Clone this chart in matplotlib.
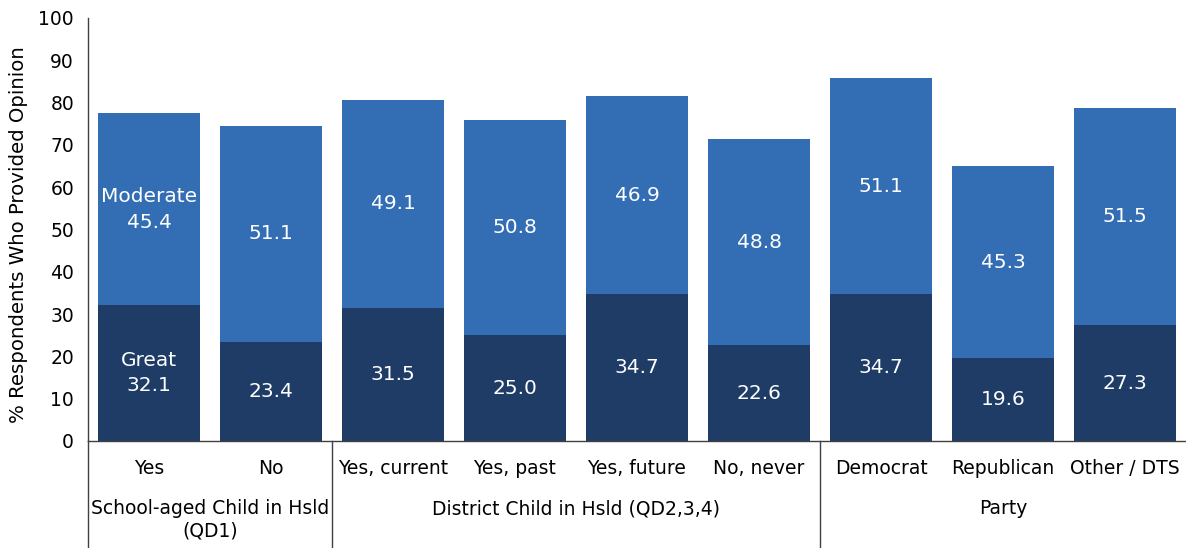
import numpy as np
import matplotlib
matplotlib.use("Agg")
import matplotlib.pyplot as plt

categories = ["Yes", "No", "Yes, current", "Yes, past", "Yes, future",
              "No, never", "Democrat", "Republican", "Other / DTS"]
great = [32.1, 23.4, 31.5, 25.0, 34.7, 22.6, 34.7, 19.6, 27.3]
moderate = [45.4, 51.1, 49.1, 50.8, 46.9, 48.8, 51.1, 45.3, 51.5]
groups = ["School-aged Child in Hsld\n(QD1)", "District Child in Hsld (QD2,3,4)", "Party"]
group_sizes = [2, 4, 3]

dark = "#1e3c65"
light = "#336db3"
fs = 13.5
fs_val = 14.5

fig = plt.figure(figsize=(11.86, 5.48), dpi=100)
ax = fig.add_axes([0.0742, 0.1953, 0.9258, 0.7719])

x = np.arange(len(categories))
w = 0.84
ax.bar(x, great, w, color=dark)
ax.bar(x, moderate, w, bottom=great, color=light)

for i in range(len(x)):
    g_txt = f"{great[i]:.1f}"
    m_txt = f"{moderate[i]:.1f}"
    if i == 0:
        g_txt = "Great\n" + g_txt
        m_txt = "Moderate\n" + m_txt
    ax.text(x[i], great[i] / 2, g_txt, ha="center", va="center",
            color="white", fontsize=fs_val, linespacing=1.45)
    ax.text(x[i], great[i] + moderate[i] / 2, m_txt, ha="center", va="center",
            color="white", fontsize=fs_val, linespacing=1.45)

ax.set_xlim(-0.5, 8.5)
ax.set_ylim(0, 100)
ax.set_yticks(range(0, 101, 10))
ax.tick_params(axis="y", length=0, labelsize=fs, pad=10)
ax.set_xticks([])
ax.spines["top"].set_visible(False)
ax.spines["right"].set_visible(False)
for s in ("left", "bottom"):
    ax.spines[s].set_color("#404040")
    ax.spines[s].set_linewidth(1)
ax.set_ylabel("% Respondents Who Provided Opinion", fontsize=14.2)
ax.yaxis.set_label_coords(-0.0546, 0.487)

# category table under the axis
trans = ax.get_xaxis_transform()
y_low = -0.2535
for i, c in enumerate(categories):
    ax.text(x[i], -0.065, c, transform=trans, ha="center", va="center", fontsize=fs)

start = -0.5
ax.plot([start, start], [0, y_low], transform=trans, color="#404040", lw=1, clip_on=False)
for g, n in zip(groups, group_sizes):
    end = start + n
    ax.text((start + end) / 2, -0.138, g, transform=trans, ha="center", va="top",
            fontsize=fs, linespacing=1.2)
    if end < 8.5:
        ax.plot([end, end], [0, y_low], transform=trans, color="#404040", lw=1, clip_on=False)
    start = end

fig.savefig("out.png", dpi=100)
